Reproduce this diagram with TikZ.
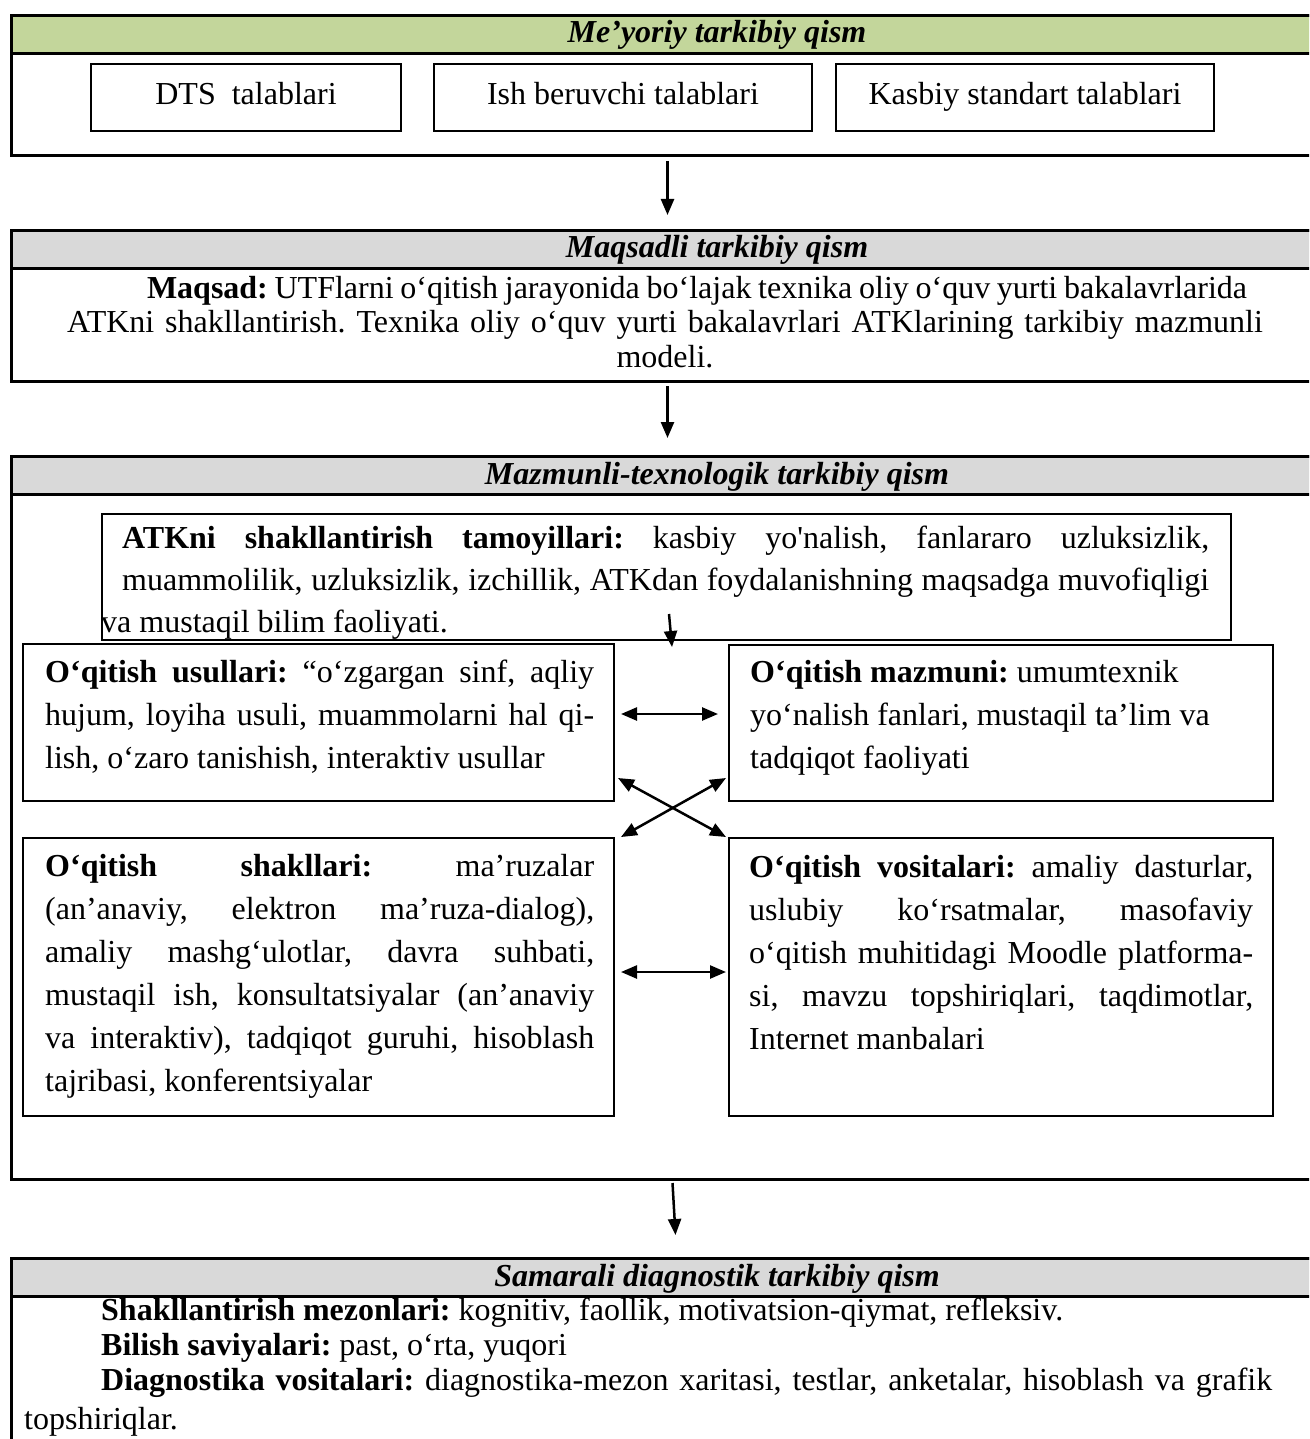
\documentclass[tikz,border=0pt]{standalone}
\usepackage{fontspec}
\setmainfont{Liberation Serif}
\usetikzlibrary{arrows.meta}
\definecolor{hdrgreen}{HTML}{C3D69B}
\definecolor{hdrgray}{HTML}{D9D9D9}
\frenchspacing
\newcommand{\jline}[2][549pt]{\makebox[#1][s]{#2}}

\begin{document}
\begin{tikzpicture}[x=1pt, y=-1pt,
  sect/.style={draw, line width=3pt, inner sep=0pt, anchor=north west, minimum width=1312pt},
  head/.style={sect, minimum height=38pt},
  box/.style={draw, line width=2pt, inner sep=0pt},
  ttl/.style={font=\fontsize{32}{38}\selectfont\bfseries\itshape, anchor=base, inner sep=0pt},
  txt/.style={font=\fontsize{32}{#1}\selectfont, anchor=base west, inner sep=0pt, align=left,
    execute at begin node={\spaceskip=0pt\xspaceskip=0pt}},
  txt/.default=43,
  arr/.style={line width=2.5pt, -{Triangle[length=16pt,width=13pt]}},
  darr/.style={line width=2.5pt, {Triangle[length=16pt,width=13pt]}-{Triangle[length=16pt,width=13pt]}}]
\clip (0,0) rectangle (1309,1439);

\node[sect, minimum height=140pt] (meyor) at (10,14) {};
\node[head, fill=hdrgreen] (meyorhead) at (10,14) {};
\node[ttl] (meyorttl) at (717,43) {Me’yoriy tarkibiy qism};
\node[box, minimum width=310pt, minimum height=67pt, font=\fontsize{32}{38}\selectfont, text height=22pt, text depth=7pt] (dts) at (246,97.5) {DTS\ \ talablari};
\node[box, minimum width=378pt, minimum height=67pt, font=\fontsize{32}{38}\selectfont, text height=22pt, text depth=7pt] (ish) at (623,97.5) {Ish beruvchi talablari};
\node[box, minimum width=378pt, minimum height=67pt, font=\fontsize{32}{38}\selectfont, text height=22pt, text depth=7pt] (kasbiy) at (1025,97.5) {Kasbiy standart talablari};

\node[sect, minimum height=151pt] (maqsad) at (10,229) {};
\node[head, fill=hdrgray] (maqsadhead) at (10,229) {};
\node[ttl] (maqsadttl) at (717,258) {Maqsadli tarkibiy qism};
\node[txt=35, text width=1290pt, anchor=base, align=center] (maqsadtxt) at (665,298) {\hspace*{64pt}\jline[1100pt]{\textbf{Maqsad:} UTFlarni o‘qitish jarayonida bo‘lajak texnika oliy o‘quv yurti bakalavrlarida}\\
ATKni shakllantirish. Texnika oliy o‘quv yurti bakalavrlari ATKlarining tarkibiy mazmunli\\
modeli.};

\node[sect, minimum height=723pt] (mazmun) at (10,455) {};
\node[head, fill=hdrgray] (mazmunhead) at (10,455) {};
\node[ttl] (mazmunttl) at (717,484) {Mazmunli-texnologik tarkibiy qism};

\node[box, anchor=north west, minimum width=1129pt, minimum height=126pt] (tamoyil) at (101,513) {};
\begin{scope}
\clip (101,513) rectangle (1230,639);
\node[txt=42, text width=1087pt] (tamoyiltxt) at (122,548) {\jline[1087pt]{\textbf{ATKni shakllantirish tamoyillari:} kasbiy yo\textquotesingle nalish, fanlararo uzluksizlik,}\\
\jline[1087pt]{muammolilik, uzluksizlik, izchillik, ATKdan foydalanishning maqsadga muvofiqligi}\\
\hspace*{-21pt}va mustaqil bilim faoliyati.};
\end{scope}

\node[box, minimum width=591pt, minimum height=157pt] (usul) at (318.5,722.5) {};
\node[box, minimum width=544pt, minimum height=156pt] (mazm) at (1001,723) {};
\node[box, minimum width=591pt, minimum height=278pt] (shakl) at (318.5,977) {};
\node[box, minimum width=544pt, minimum height=278pt] (vosit) at (1001,977) {};

\node[txt, text width=549pt] (usultxt) at (45,682) {\jline{\textbf{O‘qitish usullari:} “o‘zgargan sinf, aqliy}\\
\jline{hujum, loyiha usuli, muammolarni hal qi-}\\
lish, o‘zaro tanishish, interaktiv usullar};
\node[txt, text width=504pt] (mazmtxt) at (750,682) {\textbf{O‘qitish mazmuni:} umumtexnik\\
yo‘nalish fanlari, mustaqil ta’lim va\\
tadqiqot faoliyati};
\node[txt, text width=549pt] (shakltxt) at (45,876) {\jline{\textbf{O‘qitish shakllari:} ma’ruzalar}\\
\jline{(an’anaviy, elektron ma’ruza-dialog),}\\
\jline{amaliy mashg‘ulotlar, davra suhbati,}\\
\jline{mustaqil ish, konsultatsiyalar (an’anaviy}\\
\jline{va interaktiv), tadqiqot guruhi, hisoblash}\\
tajribasi, konferentsiyalar};
\node[txt, text width=504pt] (vosittxt) at (749,877) {\jline[504pt]{\textbf{O‘qitish vositalari:} amaliy dasturlar,}\\
\jline[504pt]{uslubiy ko‘rsatmalar, masofaviy}\\
\jline[504pt]{o‘qitish muhitidagi Moodle platforma-}\\
\jline[504pt]{si, mavzu topshiriqlari, taqdimotlar,}\\
Internet manbalari};

\node[sect, minimum height=300pt] (diag) at (10,1257) {};
\node[head, fill=hdrgray] (diaghead) at (10,1257) {};
\node[ttl] (diagttl) at (717,1286) {Samarali diagnostik tarkibiy qism};
\node[txt=35, text width=1248pt] (diagtxt) at (24,1320) {\hspace*{77pt}\textbf{Shakllantirish mezonlari:} kognitiv, faollik, motivatsion-qiymat, refleksiv.\\
\hspace*{77pt}\textbf{Bilish saviyalari:} past, o‘rta, yuqori\\
\jline[1248pt]{\hspace*{77pt}\textbf{Diagnostika vositalari:} diagnostika-mezon xaritasi, testlar, anketalar, hisoblash va grafik}\\[4pt]
topshiriqlar.};

\draw[arr] ([yshift=-4pt]meyor.south) -- ([yshift=14pt]maqsad.north);
\draw[arr] ([yshift=-3pt]maqsad.south) -- ([yshift=17pt]mazmun.north);
\draw[arr] ([shift={(2.5pt,27pt)}]tamoyil.south) -- ([shift={(5.5pt,-6pt)}]tamoyil.south);
\draw[darr] ([shift={(6pt,8.5pt)}]usul.east) -- ([shift={(-10pt,9pt)}]mazm.west);
\draw[darr] ([shift={(3pt,24pt)}]usul.south east) -- ([xshift=-2pt]vosit.north west);
\draw[darr] ([shift={(-2pt,24pt)}]mazm.south west) -- ([xshift=6pt]shakl.north east);
\draw[darr] ([shift={(6pt,5pt)}]shakl.east) -- ([shift={(-2pt,5pt)}]vosit.west);
\draw[arr] ([shift={(5pt,-2pt)}]mazmun.south) -- ([shift={(8pt,22pt)}]diag.north);
\end{tikzpicture}
\end{document}
